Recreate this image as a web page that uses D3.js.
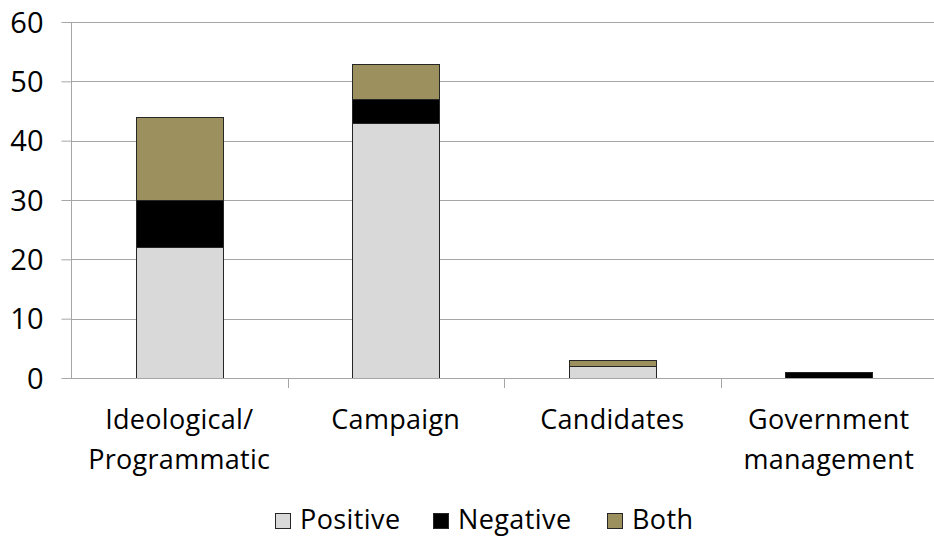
<!DOCTYPE html>
<html>
<head>
<meta charset="utf-8">
<script src="https://cdn.jsdelivr.net/npm/d3@7"></script>
<style>
  html, body { margin: 0; padding: 0; background: #fff; }
  svg { display: block; font-family: "Open Sans", "Noto Sans", sans-serif; }
</style>
</head>
<body>
<svg id="chart" width="934" height="537"></svg>
<script>
// Category labels (each label is split into lines)
const categories = [
  ["Ideological/", "Programmatic"],
  ["Campaign"],
  ["Candidates"],
  ["Government", "management"]
];
const seriesNames = ["Positive", "Negative", "Both"];
const positive = [22, 43, 2, 0];
const negative = [8, 4, 0, 1];
const both     = [14, 6, 1, 0];
const yTicks   = [0, 10, 20, 30, 40, 50, 60];
const colors   = ["#d9d9d9", "#000000", "#9c915e"];

const svg = d3.select("#chart");
const margin = { left: 71, right: 0, top: 22, bottom: 159 };
const W = 934, H = 537;
const plotBottom = H - margin.bottom;

const keys = categories.map(c => c.join(" "));
const rows = keys.map((k, i) => ({ key: k, Positive: positive[i], Negative: negative[i], Both: both[i] }));
const stacked = d3.stack().keys(seriesNames)(rows);

const x = d3.scaleBand().domain(keys).range([margin.left, 937]).paddingInner(0).paddingOuter(0);
const y = d3.scaleLinear().domain([0, 60]).range([plotBottom, margin.top]);
const barW = x.bandwidth() / 2.5;

// Horizontal gridlines
svg.append("g")
  .selectAll("line")
  .data(yTicks.filter(t => t > 0))
  .join("line")
  .attr("x1", margin.left).attr("x2", W)
  .attr("y1", d => Math.round(y(d)) + 0.5).attr("y2", d => Math.round(y(d)) + 0.5)
  .attr("stroke", "#a6a6a6").attr("stroke-width", 1);

// Y axis
const yAxis = svg.append("g")
  .attr("transform", `translate(${margin.left + 0.5},0)`)
  .call(d3.axisLeft(y).tickValues(yTicks).tickSize(10).tickPadding(18).tickFormat(d3.format("d")));
yAxis.select(".domain").attr("stroke", "#a6a6a6").attr("d", `M0,${margin.top}V${plotBottom + 0.5}`);
yAxis.selectAll(".tick line").attr("stroke", "#a6a6a6");
yAxis.selectAll(".tick text")
  .attr("fill", "#000").attr("font-size", "29px")
  .attr("font-family", "'Open Sans', 'Noto Sans', sans-serif")
  .attr("dy", "0.35em");

// Bars
svg.append("g")
  .selectAll("g")
  .data(stacked)
  .join("g")
  .attr("fill", (d, i) => colors[i])
  .selectAll("rect")
  .data(d => d.filter(s => s[1] - s[0] > 0))
  .join("rect")
  .attr("x", d => Math.round(x(d.data.key) + (x.bandwidth() - barW) / 2) + 0.5)
  .attr("width", Math.round(barW))
  .attr("y", d => Math.round(y(d[1])) + 0.5)
  .attr("height", d => Math.round(y(d[0])) - Math.round(y(d[1])))
  .attr("stroke", "#262626").attr("stroke-width", 1);

// X axis baseline and category ticks
const xg = svg.append("g");
xg.append("line")
  .attr("x1", margin.left).attr("x2", W)
  .attr("y1", Math.round(plotBottom) + 0.5).attr("y2", Math.round(plotBottom) + 0.5)
  .attr("stroke", "#a6a6a6");
xg.selectAll("line.tick")
  .data(keys.slice(1))
  .join("line")
  .attr("class", "tick")
  .attr("x1", d => Math.round(x(d)) + 0.5).attr("x2", d => Math.round(x(d)) + 0.5)
  .attr("y1", plotBottom).attr("y2", plotBottom + 10)
  .attr("stroke", "#a6a6a6");

// Category labels
const labels = xg.selectAll("text.cat")
  .data(categories)
  .join("text")
  .attr("class", "cat")
  .attr("text-anchor", "middle")
  .attr("font-size", "27px")
  .attr("letter-spacing", "0.3px")
  .attr("fill", "#000")
  .attr("transform", (d, i) => `translate(${x(keys[i]) + x.bandwidth() / 2},0)`);
labels.selectAll("tspan")
  .data(d => d)
  .join("tspan")
  .attr("x", 0)
  .attr("y", (d, j) => 429 + j * 40)
  .text(d => d);

// Legend
const legendItems = [
  { name: "Positive", x: 275 },
  { name: "Negative", x: 433 },
  { name: "Both", x: 607 }
];
const lg = svg.append("g");
legendItems.forEach((it, i) => {
  lg.append("rect")
    .attr("x", it.x + 0.5).attr("y", 513.5)
    .attr("width", 15).attr("height", 15)
    .attr("fill", colors[i]).attr("stroke", "#262626");
  lg.append("text")
    .attr("x", it.x + 25).attr("y", 529)
    .attr("font-size", "27px").attr("letter-spacing", "0.4px").attr("fill", "#000")
    .text(it.name);
});
</script>
</body>
</html>
